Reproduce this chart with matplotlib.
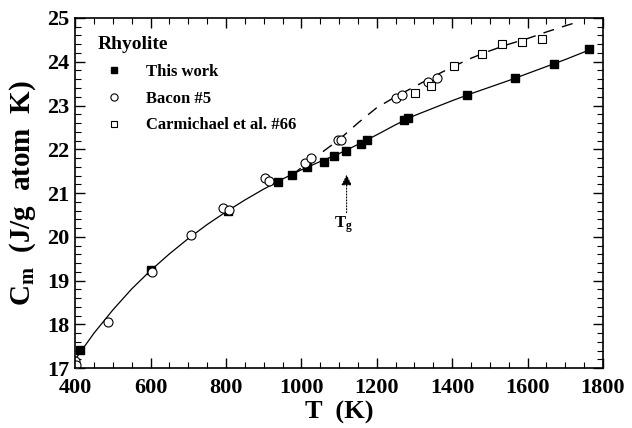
import numpy as np
import matplotlib
matplotlib.use('Agg')
import matplotlib.pyplot as plt
from matplotlib.ticker import MultipleLocator

plt.rcParams['font.family'] = 'Liberation Serif'
plt.rcParams['font.weight'] = 'bold'
plt.rcParams['mathtext.fontset'] = 'custom'
plt.rcParams['mathtext.rm'] = 'Liberation Serif:bold'
plt.rcParams['mathtext.bf'] = 'Liberation Serif:bold'
plt.rcParams['mathtext.it'] = 'Liberation Serif:bold'

this_T = [413, 601, 806, 939, 975, 1014, 1061, 1087, 1118, 1158, 1174, 1271, 1282, 1439, 1567, 1669, 1764]
this_Cm = [17.41, 19.23, 20.59, 21.26, 21.41, 21.60, 21.72, 21.85, 21.97, 22.12, 22.22, 22.66, 22.71, 23.24, 23.63, 23.95, 24.28]

bacon_T = [399, 401, 488, 605, 706, 792, 807, 904, 915, 1010, 1025, 1096, 1104, 1250, 1268, 1336, 1361]
bacon_Cm = [17.16, 17.08, 18.05, 19.20, 20.05, 20.65, 20.61, 21.34, 21.27, 21.68, 21.81, 22.22, 22.22, 23.18, 23.23, 23.53, 23.62]

carm_T = [1302, 1343, 1404, 1479, 1532, 1585, 1638]
carm_Cm = [23.28, 23.45, 23.90, 24.17, 24.40, 24.46, 24.51]

# fitted curves
fit_T = [400, 450, 500, 550, 600, 650, 700, 750, 800, 850, 900, 950, 1000, 1050, 1100,
         1150, 1200, 1250, 1300, 1350, 1400, 1450, 1500, 1550, 1600, 1650, 1700, 1770]
fit_Cm = [17.20, 17.80, 18.33, 18.81, 19.23, 19.61, 19.96, 20.28, 20.57, 20.84, 21.09, 21.32, 21.53, 21.72, 21.90,
          22.11, 22.33, 22.56, 22.77, 22.94, 23.11, 23.27, 23.42, 23.57, 23.73, 23.89, 24.05, 24.29]

liq_T = [975, 1000, 1050, 1100, 1150, 1200, 1250, 1300, 1350, 1400, 1450, 1500, 1550, 1600, 1650, 1700, 1730]
liq_Cm = [21.41, 21.58, 21.90, 22.22, 22.60, 22.95, 23.20, 23.43, 23.66, 23.88, 24.08, 24.25, 24.40, 24.53, 24.68, 24.82, 24.90]

Tg = 1120

fig = plt.figure(figsize=(6.32, 4.28), dpi=100)
ax = fig.add_axes([0.119, 0.14, 0.835, 0.818])

ax.plot(fit_T, fit_Cm, '-', color='black', lw=0.9)
ax.plot(liq_T, liq_Cm, '--', color='black', lw=1.0, dashes=(8, 6))

ax.plot(this_T, this_Cm, 's', color='black', ms=5.5, ls='none', label='This work')
ax.plot(bacon_T, bacon_Cm, 'o', mfc='white', mec='black', mew=0.8, ms=6.5, ls='none', label='Bacon #5')
ax.plot(carm_T, carm_Cm, 's', mfc='white', mec='black', mew=0.8, ms=5.5, ls='none', label='Carmichael et al. #66')

ax.annotate('', xy=(Tg, 21.42), xytext=(Tg, 20.55),
            arrowprops=dict(arrowstyle='-|>', color='black', lw=0.8, ls=':',
                            mutation_scale=16, shrinkA=0, shrinkB=0))
ax.text(Tg - 8, 20.28, r'T$_{\mathrm{g}}$', ha='center', va='center', fontsize=12, fontweight='bold')

leg = ax.legend(loc='upper left', bbox_to_anchor=(0.03, 0.968), title='Rhyolite', frameon=False,
                fontsize=12, title_fontproperties={'weight': 'bold', 'size': 14},
                markerscale=0.8, handlelength=2.0, handletextpad=0.9,
                labelspacing=0.65, borderaxespad=0, alignment='left')

ax.set_xlim(400, 1800)
ax.set_ylim(17, 25)
ax.xaxis.set_major_locator(MultipleLocator(200))
ax.xaxis.set_minor_locator(MultipleLocator(50))
ax.yaxis.set_major_locator(MultipleLocator(1))
ax.yaxis.set_minor_locator(MultipleLocator(0.2))
ax.tick_params(which='both', direction='in', top=True, right=True, labelsize=16)
ax.tick_params(axis='x', pad=7)
ax.tick_params(axis='y', pad=4)
ax.tick_params(which='major', length=7, width=1)
ax.tick_params(which='minor', length=4, width=0.8)
for lab in ax.get_xticklabels() + ax.get_yticklabels():
    lab.set_fontweight('bold')
for s in ax.spines.values():
    s.set_linewidth(1.2)

ax.set_xlabel('T  (K)', fontsize=19, fontweight='bold', labelpad=2)
ax.set_ylabel(r'C$_{\mathrm{m}}$  (J/g  atom  K)', fontsize=21, fontweight='bold')
ax.yaxis.set_label_coords(-0.07, 0.5)

fig.savefig('out.png', dpi=100)
